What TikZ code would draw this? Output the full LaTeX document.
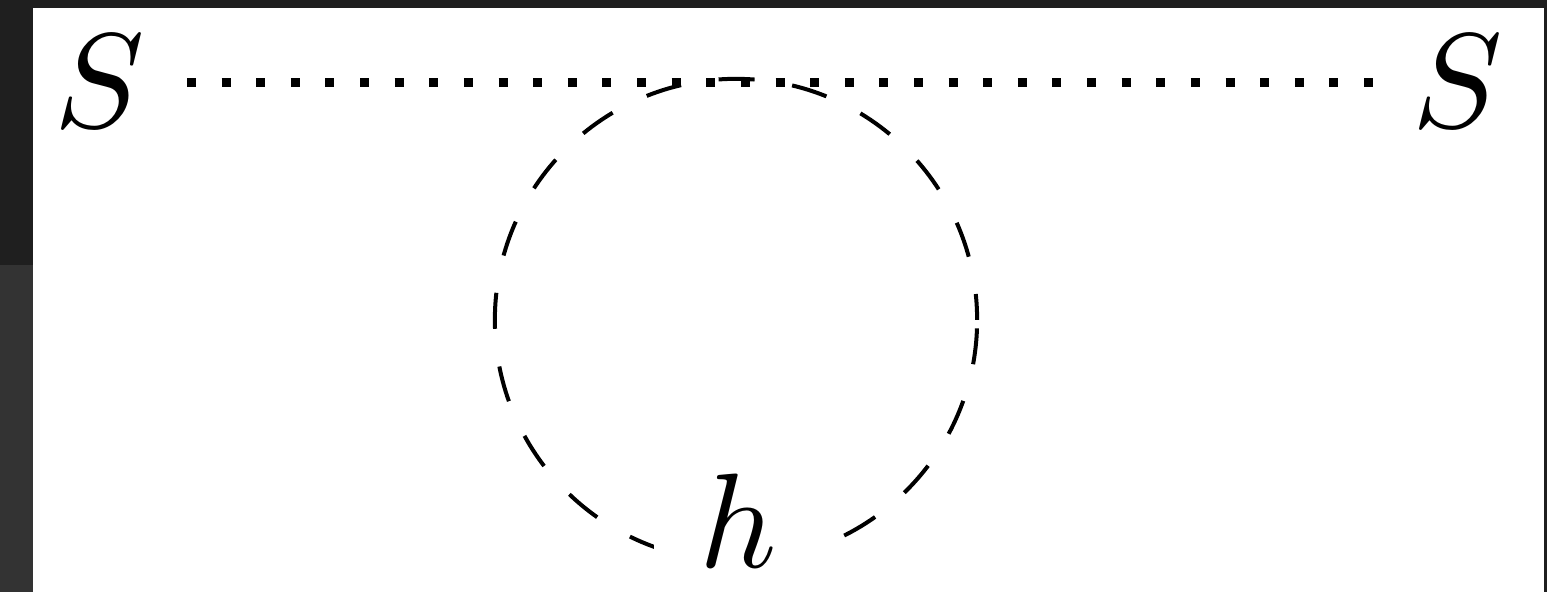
\documentclass[tikz,border=0pt]{standalone}
\begin{document}
\begin{tikzpicture}[x=0.01cm,y=-0.01cm,
  lbl/.style={scale=3.83, inner sep=0pt},
  scalarline/.style={line width=0.09cm, dash pattern=on 0.09cm off 0.256cm},
  higgsloop/.style={line width=0.04cm, dash pattern=on 0.36cm off 0.38cm, dash phase=0.1cm}]
  \useasboundingbox (0,0) rectangle (1547,592);
  \fill[black!88] (0,0) rectangle (1547,592);
  \fill[black!80] (0,265) rectangle (33,592);
  \fill[white] (33,8) rectangle (1544,592);
  \node[lbl] (S1) at (100,81) {$S$};
  \node[lbl] (S2) at (1458,81) {$S$};
  \coordinate (L1) at (187,83);
  \coordinate (L2) at (1377,83);
  \node[circle, minimum size=4.82cm, draw, higgsloop] (loop) at (736,320) {};
  \node[lbl, fill=white, inner xsep=0.118cm, inner ysep=0.026cm] (h) at (738,521) {$h$};
  \draw[scalarline] (L1) -- (L2);
\end{tikzpicture}
\end{document}
